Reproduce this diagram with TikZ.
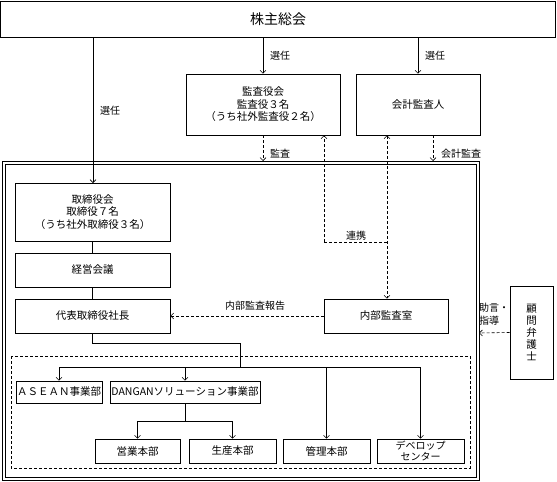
\documentclass[tikz,border=0pt]{standalone}
\usepackage{fontspec}
\setmainfont{Noto Sans CJK JP}
\usetikzlibrary{arrows.meta}
\begin{document}
\begin{tikzpicture}[x=1pt,y=-1pt,
  line width=0.6pt,
  >={Straight Barb[length=3pt,width=6pt]},
  box/.style={draw,rectangle,inner sep=0pt,align=center,font=\fontsize{10.5}{12.5}\selectfont},
  lbl/.style={inner sep=0pt,font=\fontsize{10}{12}\selectfont,align=left},
  dsh/.style={dashed,dash pattern=on 3pt off 2pt}]
\useasboundingbox (0,0) rectangle (557,482);
% boxes
\node[box,minimum width=555pt,minimum height=36pt,font=\fontsize{14}{16}\selectfont] (top) at (278,19) {株主総会};
\node[box,minimum width=154pt,minimum height=61pt] (kansa) at (263,104.5) {監査役会\\監査役３名\\（うち社外監査役２名）};
\node[box,minimum width=124pt,minimum height=61pt] (kaikei) at (418,104.5) {会計監査人};
\node[box,minimum width=155pt,minimum height=58pt] (tori) at (92.5,212) {取締役会\\取締役７名\\（うち社外取締役３名）};
\node[box,minimum width=155pt,minimum height=34pt] (keiei) at (92.5,270) {経営会議};
\node[box,minimum width=155pt,minimum height=34pt] (daihyo) at (92.5,316) {代表取締役社長};
\node[box,minimum width=124pt,minimum height=34pt] (naibu) at (386,316) {内部監査室};
\node[box,minimum width=43pt,minimum height=93pt,font=\fontsize{10.5}{12}\selectfont] (komon) at (531.5,332.5) {顧\\問\\弁\\護\\士};
\node[box,minimum width=86pt,minimum height=22pt] (asean) at (59,392) {ＡＳＥＡＮ事業部};
\node[box,minimum width=150pt,minimum height=22pt] (dangan) at (185,392) {DANGANソリューション事業部};
\node[box,minimum width=85pt,minimum height=24pt] (eigyo) at (137.5,451) {営業本部};
\node[box,minimum width=87pt,minimum height=24pt] (seisan) at (232.5,451) {生産本部};
\node[box,minimum width=87pt,minimum height=24pt] (kanri) at (326.5,451) {管理本部};
\node[box,minimum width=87pt,minimum height=24pt,font=\fontsize{10}{11}\selectfont] (devel) at (420.5,451) {デベロップ\\センター};
% outer double frame and dashed group
\draw (2,161) rectangle (479,480);
\draw (5,164) rectangle (476,477);
\draw[dsh] (11,356) rectangle (470,468);
\coordinate (kansaEnd) at (263,161);
\coordinate (kaikeiEnd) at (433,161);
\coordinate (frameR) at (479,333);
% election arrows
\draw[->] (top.south -| tori.north) ++(0.5,0) -- (93,183);
\draw[->] (top.south -| kansa.north) -- (kansa.north);
\draw[->] (top.south -| kaikei.north) -- (kaikei.north);
\node[lbl] (l1) at (110,111) {選任};
\node[lbl] (l2) at (280,56) {選任};
\node[lbl] (l3) at (435,56) {選任};
% audit arrows
\draw[dsh,->] (kansa.south) -- (kansaEnd);
\node[lbl] (l4) at (280,154) {監査};
\draw[dsh,->] (kaikei.south -| kaikeiEnd) -- (kaikeiEnd);
\node[lbl] (l5) at (461,154) {会計監査};
% renkei
\coordinate (rk1) at (324,242);
\coordinate (rk2) at (387,242);
\draw[dsh,->] (rk1) -- (kansa.south -| rk1);
\draw[dsh] (rk1) -- (rk2);
\draw[dsh,<->] (kaikei.south -| rk2) -- (naibu.north -| rk2);
\node[lbl] (l6) at (356,236) {連携};
% internal audit report
\draw[dsh,->] (naibu.west) -- (daihyo.east);
\node[lbl] (l7) at (255,306) {内部監査報告};
% komon
\draw[dsh,->] (komon.west) -- (frameR);
\node[lbl,font=\fontsize{10}{13}\selectfont] (l8) at (494,314) {助言・\\指導};
% vertical chain
\draw (tori.south) -- (keiei.north);
\draw (keiei.south) -- (daihyo.north);
% tree
\draw (daihyo.south) -- (92.5,343) -- (240,343) -- (240,367);
\draw (59,367) -- (420.5,367);
\draw[->] (59,367) -- (asean.north);
\draw[->] (185,367) -- (dangan.north);
\draw[->] (326.5,367) -- (kanri.north);
\draw[->] (420.5,367) -- (devel.north);
\draw (dangan.south) -- (185,421);
\draw (137.5,421) -- (232.5,421);
\draw[->] (137.5,421) -- (eigyo.north);
\draw[->] (232.5,421) -- (seisan.north);
\end{tikzpicture}
\end{document}
